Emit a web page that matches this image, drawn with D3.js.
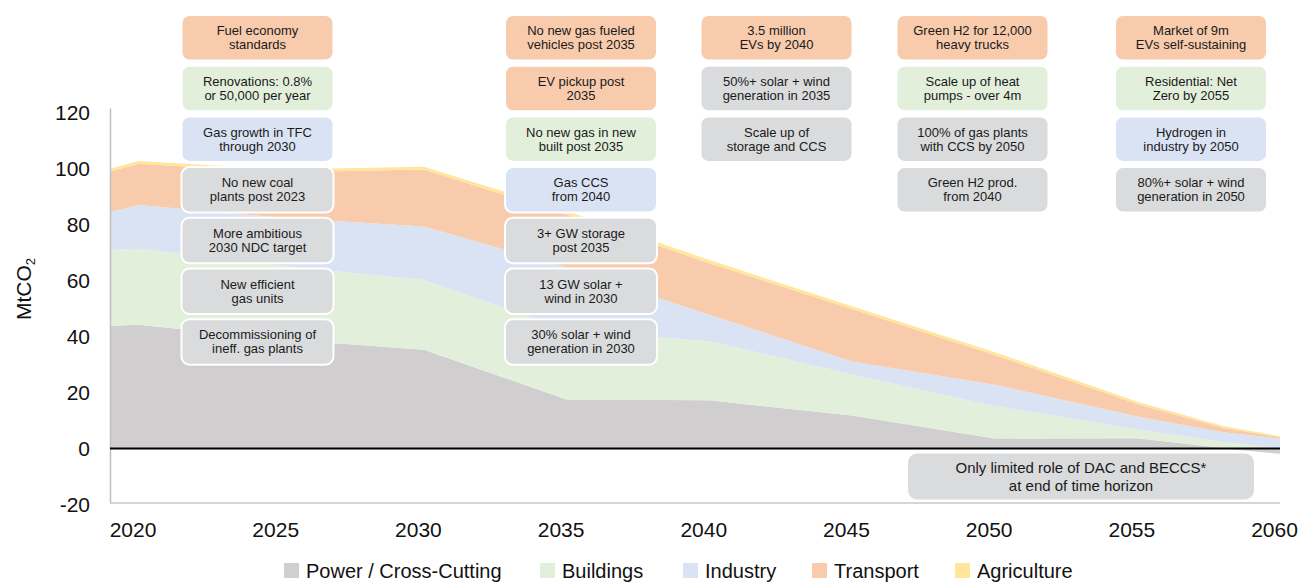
<!DOCTYPE html>
<html>
<head>
<meta charset="utf-8">
<script src="https://d3js.org/d3.v7.min.js"></script>
<style>
    body { margin: 0; background: #fff; font-family: "Liberation Sans", Arial, sans-serif; }
    .axis text { fill: #111; font-size: 21px; font-family: "Liberation Sans", Arial, sans-serif; }
    .note text { fill: #1a1a1a; font-size: 13px; }
</style>
</head>
<body>
<div id="chart"></div>
<script>

// Emissions by sector, MtCO2
var years       = [2019, 2020, 2025, 2030, 2035, 2040, 2045, 2050, 2055, 2058, 2060];
var power       = [43.8, 44.2, 39.0, 35.3, 17.5, 17.2, 11.8, 3.6, 3.7, 0.2, -1.9];
var buildings   = [27.1, 27.1, 26.2, 24.9, 24.9, 21.1, 14.6, 11.5, 3.1, 2.1, 0.1];
var industry    = [13.6, 15.7, 17.2, 19.1, 22.2, 9.5, 4.7, 7.7, 4.6, 3.5, 3.4];
var transport   = [14.4, 14.7, 16.3, 20.3, 19.0, 18.4, 18.7, 10.6, 4.5, 1.6, 0.5];
var agriculture = [0.9, 1.0, 0.9, 1.0, 1.2, 1.1, 1.0, 1.0, 0.8, 0.6, 0.4];

var sectors = ["Power / Cross-Cutting", "Buildings", "Industry", "Transport", "Agriculture"];
var sectorValues = [power, buildings, industry, transport, agriculture];
var sectorColors = ["#d0cece", "#e2efda", "#dae3f3", "#f8cbad", "#ffe699"];

var yTicks = [-20, 0, 20, 40, 60, 80, 100, 120];
var xTicks = [2020, 2025, 2030, 2035, 2040, 2045, 2050, 2055, 2060];

// Policy notes: column, row, sector colour key, two lines of text
var notes = [
    [0, 0, "T", "Fuel economy", "standards"],
    [0, 1, "B", "Renovations: 0.8%", "or 50,000 per year"],
    [0, 2, "I", "Gas growth in TFC", "through 2030"],
    [0, 3, "P", "No new coal", "plants post 2023"],
    [0, 4, "P", "More ambitious", "2030 NDC target"],
    [0, 5, "P", "New efficient", "gas units"],
    [0, 6, "P", "Decommissioning of", "ineff. gas plants"],
    [1, 0, "T", "No new gas fueled", "vehicles post 2035"],
    [1, 1, "T", "EV pickup post", "2035"],
    [1, 2, "B", "No new gas in new", "built post 2035"],
    [1, 3, "I", "Gas CCS", "from 2040"],
    [1, 4, "P", "3+ GW storage", "post 2035"],
    [1, 5, "P", "13 GW solar +", "wind in 2030"],
    [1, 6, "P", "30% solar + wind", "generation in 2030"],
    [2, 0, "T", "3.5 million", "EVs by 2040"],
    [2, 1, "P", "50%+ solar + wind", "generation in 2035"],
    [2, 2, "P", "Scale up of", "storage and CCS"],
    [3, 0, "T", "Green H2 for 12,000", "heavy trucks"],
    [3, 1, "B", "Scale up of heat", "pumps - over 4m"],
    [3, 2, "P", "100% of gas plants", "with CCS by 2050"],
    [3, 3, "P", "Green H2 prod.", "from 2040"],
    [4, 0, "T", "Market of 9m", "EVs self-sustaining"],
    [4, 1, "B", "Residential: Net", "Zero by 2055"],
    [4, 2, "I", "Hydrogen in", "industry by 2050"],
    [4, 3, "P", "80%+ solar + wind", "generation in 2050"]
];
var endNote = ["Only limited role of DAC and BECCS*", "at end of time horizon"];

var noteFill = {T: "#f8cbad", B: "#e2efda", I: "#dae3f3", P: "#dadbdc"};

// Layout
var W = 1299, H = 583;
var plot = {left: 110, right: 1280, top: 112.5, bottom: 504.5};
var colX = [181.5, 505, 700.5, 896.5, 1115];
var noteW = 152, noteH = 45.5, rowStep = 50.7, rowTop = 15;

var svg = d3.select("#chart").append("svg")
    .attr("width", W)
    .attr("height", H);

var x = d3.scaleLinear().domain([2019, 2060]).range([plot.left, plot.right]);
var y = d3.scaleLinear().domain([-20, 120]).range([plot.bottom, plot.top]);

// table for the stack
var table = years.map(function(yr, i) {
    var row = {year: yr};
    sectors.forEach(function(s, j) { row[s] = sectorValues[j][i]; });
    return row;
});

var stacked = d3.stack()
    .keys(sectors)
    .offset(d3.stackOffsetDiverging)(table);

var area = d3.area()
    .x(function(d) { return x(d.data.year); })
    .y0(function(d) { return y(d[0]); })
    .y1(function(d) { return y(d[1]); });

svg.append("g")
    .selectAll("path")
    .data(stacked)
    .enter().append("path")
        .attr("fill", function(d, i) { return sectorColors[i]; })
        .attr("d", area);

// Axis frame lines
svg.append("line")
    .attr("x1", plot.left + 0.5).attr("x2", plot.left + 0.5)
    .attr("y1", plot.top - 4).attr("y2", plot.bottom - 1)
    .attr("stroke", "#bfbfbf").attr("stroke-width", 1.5);
svg.append("line")
    .attr("x1", plot.left).attr("x2", plot.right)
    .attr("y1", plot.bottom - 1.5).attr("y2", plot.bottom - 1.5)
    .attr("stroke", "#c8c8c8").attr("stroke-width", 1.5);

// Zero line
svg.append("line")
    .attr("x1", plot.left).attr("x2", plot.right)
    .attr("y1", y(0)).attr("y2", y(0))
    .attr("stroke", "#000").attr("stroke-width", 2);

// Axes
var yAxis = svg.append("g")
    .attr("class", "axis")
    .attr("transform", "translate(" + plot.left + ",0)")
    .call(d3.axisLeft(y).tickValues(yTicks).tickSize(0).tickPadding(20)
        .tickFormat(function(d) { return String(d); }));
yAxis.select(".domain").remove();

var xAxis = svg.append("g")
    .attr("class", "axis")
    .attr("transform", "translate(0," + plot.bottom + ")")
    .call(d3.axisBottom(x).tickValues(xTicks).tickSize(0).tickPadding(17.5).tickFormat(d3.format("d")));
xAxis.select(".domain").remove();
xAxis.selectAll("text").attr("dx", -6);

// Y axis title
var yTitle = svg.append("text")
    .attr("transform", "translate(31,289) rotate(-90)")
    .attr("text-anchor", "middle")
    .attr("font-size", 21)
    .attr("fill", "#111");
yTitle.append("tspan").text("MtCO");
yTitle.append("tspan").attr("font-size", 13).attr("dy", 4).text("2");

// Notes
var note = svg.append("g")
    .selectAll("g")
    .data(notes)
    .enter().append("g")
        .attr("class", "note")
        .attr("transform", function(d) {
            return "translate(" + colX[d[0]] + "," + (rowTop + d[1] * rowStep) + ")";
        });

note.append("rect")
    .attr("width", noteW)
    .attr("height", noteH)
    .attr("rx", 8)
    .attr("fill", function(d) { return noteFill[d[2]]; })
    .attr("stroke", "#fff")
    .attr("stroke-width", 2);

note.append("text")
    .attr("x", noteW / 2)
    .attr("y", noteH / 2 - 2.5)
    .attr("text-anchor", "middle")
    .text(function(d) { return d[3]; });
note.append("text")
    .attr("x", noteW / 2)
    .attr("y", noteH / 2 + 11.5)
    .attr("text-anchor", "middle")
    .text(function(d) { return d[4]; });

// Note below the axis
var end = svg.append("g").attr("transform", "translate(908,453.5)");
end.append("rect")
    .attr("width", 346).attr("height", 46)
    .attr("rx", 9)
    .attr("fill", "#dadbdc");
end.selectAll("text")
    .data(endNote)
    .enter().append("text")
        .attr("x", 173)
        .attr("y", function(d, i) { return 19.5 + i * 18; })
        .attr("text-anchor", "middle")
        .attr("font-size", 15)
        .attr("fill", "#1a1a1a")
        .text(function(d) { return d; });

// Legend
var legendX = [284, 540, 683, 812, 955];
var legend = svg.append("g")
    .selectAll("g")
    .data(sectors)
    .enter().append("g")
        .attr("transform", function(d, i) { return "translate(" + legendX[i] + ",563)"; });
legend.append("rect")
    .attr("width", 15).attr("height", 15)
    .attr("fill", function(d, i) { return sectorColors[i]; });
legend.append("text")
    .attr("x", 22)
    .attr("y", 15)
    .attr("font-size", 20)
    .attr("fill", "#111")
    .text(function(d) { return d; });

</script>
</body>
</html>
